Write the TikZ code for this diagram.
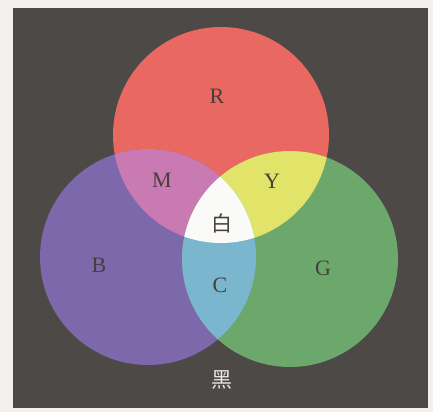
\documentclass[tikz,border=0pt]{standalone}
\usepackage{fontspec}
\setmainfont{Liberation Serif}
\newfontfamily\cjk{Noto Sans CJK SC}
\usepackage{tikz}
\definecolor{paper}{RGB}{241, 240, 238}
\definecolor{darkbg}{RGB}{76, 73, 71}
\definecolor{redc}{RGB}{234, 104, 98}
\definecolor{bluec}{RGB}{124, 104, 170}
\definecolor{greenc}{RGB}{108, 168, 108}
\definecolor{magc}{RGB}{202, 122, 178}
\definecolor{yelc}{RGB}{226, 228, 106}
\definecolor{cyanc}{RGB}{122, 182, 206}
\definecolor{whitec}{RGB}{250, 250, 248}
\definecolor{labtext}{RGB}{72, 62, 62}

\begin{document}
\begin{tikzpicture}[
  x=1pt, y=-1pt,
  lab/.style={font=\fontsize{22}{26}\selectfont, text=labtext, inner sep=0pt},
  cjklab/.style={font=\cjk\fontsize{21}{24}\selectfont, inner sep=0pt}
]
  \useasboundingbox (0,0) rectangle (433,412);
  \fill[paper] (0,0) rectangle (433,412);
  \fill[darkbg] (13,8) rectangle (428,408);

  \coordinate (r) at (221,135);
  \coordinate (b) at (148,257);
  \coordinate (g) at (290,259);

  % primaries
  \fill[redc] (r) circle[radius=108pt];
  \fill[bluec] (b) circle[radius=108pt];
  \fill[greenc] (g) circle[radius=108pt];

  % pairwise overlaps
  \begin{scope}
    \clip (r) circle[radius=108pt];
    \fill[magc] (b) circle[radius=108pt];
    \fill[yelc] (g) circle[radius=108pt];
  \end{scope}
  \begin{scope}
    \clip (b) circle[radius=108pt];
    \fill[cyanc] (g) circle[radius=108pt];
  \end{scope}
  \begin{scope}
    \clip (r) circle[radius=108pt];
    \clip (b) circle[radius=108pt];
    \fill[whitec] (g) circle[radius=108pt];
  \end{scope}

  \node[lab] (R) at (217,96) {R};
  \node[lab] (M) at (162,180) {M};
  \node[lab] (Y) at (272,181) {Y};
  \node[lab] (B) at (99,265) {B};
  \node[lab] (C) at (220,285) {C};
  \node[lab] (G) at (323,268) {G};
  \node[cjklab, text=labtext] (W) at (222,223) {白};
  \node[cjklab, text=whitec!90!darkbg] (K) at (222,380) {黑};
\end{tikzpicture}
\end{document}
